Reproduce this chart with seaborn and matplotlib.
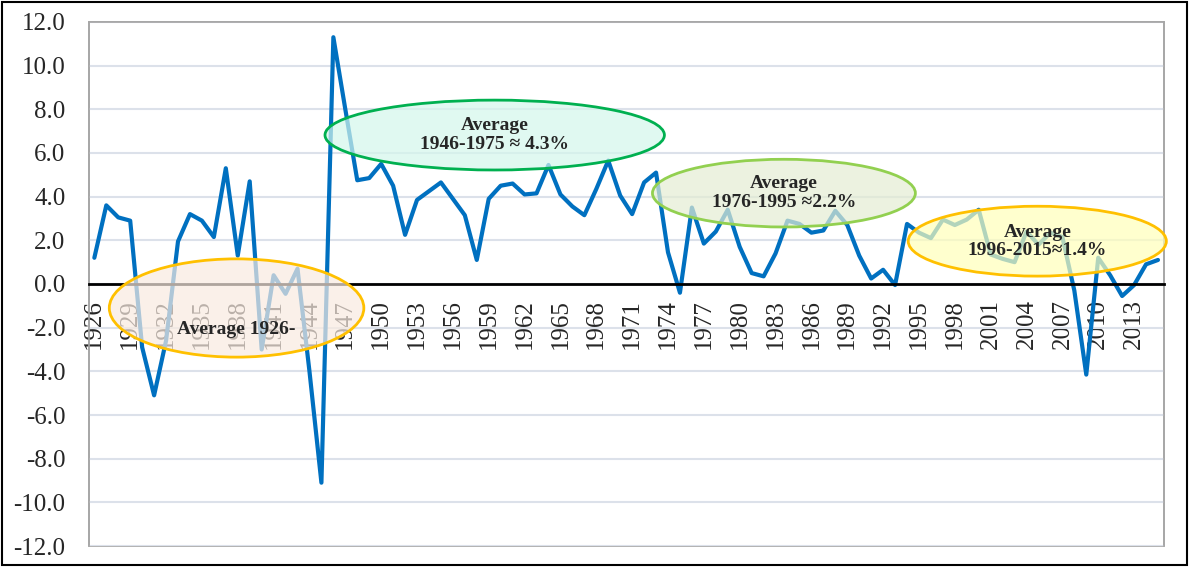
import numpy as np
import matplotlib
matplotlib.use("Agg")
import matplotlib.pyplot as plt
from matplotlib.patches import Ellipse, Rectangle
import seaborn as sns

# yearly growth (%)
years = np.arange(1926, 2016)
growth = [1.2, 3.6, 3.05, 2.9, -2.9, -5.1, -2.6, 1.95, 3.2, 2.9,
          2.15, 5.3, 1.3, 4.7, -3.0, 0.4, -0.45, 0.7, -4.0, -9.1,
          11.3, 8.0, 4.75, 4.85, 5.5, 4.5, 2.25, 3.85, 4.25, 4.65,
          3.9, 3.15, 1.1, 3.9, 4.5, 4.6, 4.1, 4.15, 5.45, 4.1,
          3.55, 3.15, 4.35, 5.65, 4.05, 3.2, 4.65, 5.1, 1.45, -0.4,
          3.5, 1.85, 2.4, 3.4, 1.7, 0.5, 0.35, 1.4, 2.9, 2.75,
          2.35, 2.45, 3.35, 2.7, 1.3, 0.25, 0.65, -0.05, 2.75, 2.35,
          2.1, 2.95, 2.7, 2.95, 3.4, 1.35, 1.15, 1.0, 2.4, 1.8,
          2.35, 2.15, -0.3, -4.15, 1.2, 0.4, -0.55, -0.05, 0.9, 1.1]
xtick_years = years[::3]
yticks = np.arange(-12, 13, 2)

# callout ellipses: label, centre year, centre value, width (years), height, edge, fill
notes = [
    ("Average 1926-", 1937.9, -1.1, 21.3, 4.5, "#FFC000", "#F9EBE1"),
    ("Average\n1946-1975 \u2248 4.3%", 1959.5, 6.82, 28.4, 3.2, "#00B050", "#D4F7EC"),
    ("Average\n1976-1995 \u22482.2%", 1983.7, 4.16, 22.0, 3.1, "#92D050", "#E4EDD3"),
    ("Average\n1996-2015\u22481.4%", 2004.9, 1.96, 21.6, 3.2, "#FFC000", "#FFFFBA"),
]

sns.set_style("white")
plt.rcParams["font.family"] = ["Liberation Serif", "DejaVu Serif"]

fig = plt.figure(figsize=(11.91, 5.67), dpi=100)
ax = fig.add_axes([0.0747, 0.037, 0.9026, 0.9243])

sns.lineplot(x=years, y=growth, ax=ax, color="#0070C0", lw=3, zorder=2)

ax.set_xlim(1925.55, 2015.5)
ax.set_ylim(-12, 12)
ax.set_yticks(yticks)
ax.set_yticklabels([f"{v:.1f}" for v in yticks], fontsize=18)
ax.tick_params(axis="y", length=0, pad=17)
ax.yaxis.grid(True, color="#DCE1EA", lw=1.5)
ax.set_axisbelow(True)

# category axis crosses at zero
ax.spines["bottom"].set_position(("data", 0))
ax.spines["bottom"].set_color("black")
ax.spines["bottom"].set_linewidth(2)
for s in ["left", "right", "top"]:
    ax.spines[s].set_color("#A6A6A6")
    ax.spines[s].set_linewidth(1.2)
ax.add_patch(Rectangle((0, 0), 1, 1, transform=ax.transAxes, fill=False,
                       ec="#A6A6A6", lw=1.2, clip_on=False, zorder=0.5))
ax.set_xticks(xtick_years)
ax.set_xticklabels([str(y) for y in xtick_years], rotation=90, fontsize=18)
ax.tick_params(axis="x", length=0, pad=11)
ax.set_xlabel("")
ax.set_ylabel("")

for label, cx, cy, w, h, ec, fc in notes:
    ax.add_patch(Ellipse((cx, cy), w, h, facecolor=fc, edgecolor="none",
                         alpha=0.7, zorder=3, clip_on=False))
    ax.add_patch(Ellipse((cx, cy), w, h, facecolor="none", edgecolor=ec,
                         lw=2, zorder=3.5, clip_on=False))
    ty = cy - 1.0 if label.startswith("Average 1926") else cy
    ax.text(cx, ty, label, ha="center", va="center", fontsize=14,
            fontweight="bold", linespacing=1.1, zorder=4)

fig.patches.append(Rectangle((0.002, 0.003), 0.995, 0.993, transform=fig.transFigure,
                             fill=False, ec="black", lw=1.5))

fig.savefig("out.png", dpi=100)
